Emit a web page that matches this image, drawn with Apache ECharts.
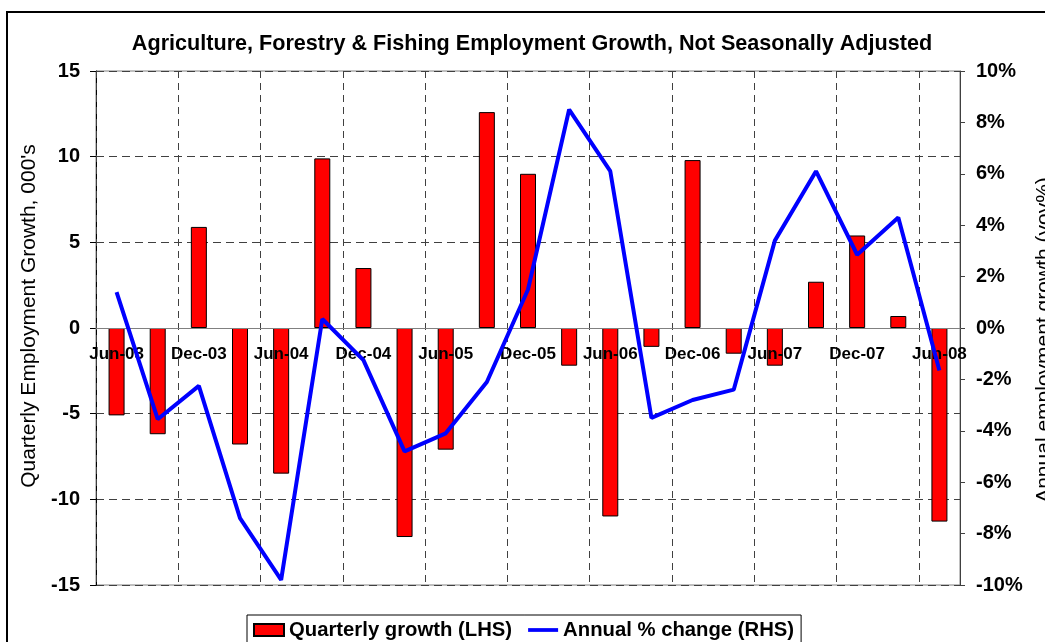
<!DOCTYPE html>
<html>
<head>
<meta charset="utf-8">
<script src="https://cdn.jsdelivr.net/npm/echarts@6/dist/echarts.min.js"></script>
<style>
html,body{margin:0;padding:0;background:#fff;}
#chart{width:1045px;height:642px;}
</style>
</head>
<body>
<div id="chart"></div>
<script>
var categories = ['Jun-03','Sep-03','Dec-03','Mar-04','Jun-04','Sep-04','Dec-04','Mar-05','Jun-05','Sep-05','Dec-05','Mar-06','Jun-06','Sep-06','Dec-06','Mar-07','Jun-07','Sep-07','Dec-07','Mar-08','Jun-08'];
var quarterlyGrowth = [-5.1,-6.2,5.9,-6.8,-8.5,9.9,3.5,-12.2,-7.1,12.6,9.0,-2.2,-11.0,-1.1,9.8,-1.5,-2.2,2.7,5.4,0.7,-11.3];
var annualChange = [1.4,-3.55,-2.25,-7.4,-9.8,0.35,-1.25,-4.8,-4.1,-2.1,1.5,8.5,6.1,-3.5,-2.8,-2.4,3.4,6.1,2.85,4.3,-1.65];
var leftTicks = {min:-15, max:15, interval:5};
var rightTicks = {min:-10, max:10, interval:2};

var gridTop = 71, gridBottomPx = 585;
var zeroOffset = -(gridBottomPx - (gridTop + (gridBottomPx - gridTop) * (leftTicks.max / (leftTicks.max - leftTicks.min))));

var chart = echarts.init(document.getElementById('chart'), null, {renderer:'canvas'});
var fontFam = '"Liberation Sans", Arial, sans-serif';
chart.setOption({
  animation:false,
  backgroundColor:'#ffffff',
  textStyle:{fontFamily:fontFam},
  title:{
    text:'Agriculture, Forestry & Fishing Employment Growth, Not Seasonally Adjusted',
    left:532, top:33, padding:0, textAlign:'center',
    textStyle:{fontSize:21.6, fontWeight:'bold', color:'#000', fontFamily:fontFam}
  },
  graphic:[{
    type:'rect', silent:true, z:-1,
    shape:{x:7, y:12, width:1100, height:700},
    style:{fill:'none', stroke:'#000', lineWidth:2}
  }],
  legend:{
    left:247, top:615,
    padding:[5,7,5,6],
    itemGap:16,
    itemWidth:30, itemHeight:12,
    borderColor:'#000', borderWidth:1,
    backgroundColor:'#fff',
    textStyle:{fontSize:20.3, fontWeight:'bold', color:'#000', fontFamily:fontFam},
    data:[
      {name:'Quarterly growth (LHS)', icon:'rect'},
      {name:'Annual % change (RHS)', icon:'path://M0,0H32V4H0Z'}
    ]
  },
  grid:{left:96, right:85, top:gridTop, bottom:642-gridBottomPx, outerBoundsMode:'none', containLabel:false,
        show:true, borderColor:'#808080', borderWidth:1, backgroundColor:'transparent'},
  xAxis:{
    type:'category',
    data:categories,
    boundaryGap:true,
    position:'bottom',
    offset:zeroOffset,
    z:3,
    axisLine:{show:true, onZero:false, lineStyle:{color:'#808080', width:1}},
    axisTick:{show:false},
    axisLabel:{interval:1, margin:18, fontSize:17, fontWeight:'bold', color:'#000', fontFamily:fontFam},
    splitLine:{show:true, interval:function(i){return i % 2 === 0;}, lineStyle:{color:'#404040', type:[7,5], width:1}}
  },
  yAxis:[{
    type:'value',
    min:leftTicks.min, max:leftTicks.max, interval:leftTicks.interval,
    position:'left',
    name:"Quarterly Employment Growth, 000's",
    nameLocation:'middle', nameGap:53,
    nameTextStyle:{fontSize:21, color:'#000', fontFamily:fontFam, padding:[0,0,0,24]},
    axisLine:{show:true, onZero:false, lineStyle:{color:'#000', width:1}},
    axisTick:{show:true, length:6, lineStyle:{color:'#000'}},
    axisLabel:{margin:16, fontSize:20, fontWeight:'bold', color:'#000', fontFamily:fontFam},
    splitLine:{show:true, lineStyle:{color:'#404040', type:[8,5], width:1}}
  },{
    type:'value',
    min:rightTicks.min, max:rightTicks.max, interval:rightTicks.interval,
    position:'right',
    name:'Annual employment growth (yoy%)',
    nameLocation:'middle', nameGap:71,
    nameTextStyle:{fontSize:21, color:'#000', fontFamily:fontFam, padding:[0,24,0,0]},
    axisLine:{show:true, onZero:false, lineStyle:{color:'#404040', width:1}},
    axisTick:{show:true, length:5, lineStyle:{color:'#404040'}},
    axisLabel:{margin:16, fontSize:20, fontWeight:'bold', color:'#000', fontFamily:fontFam, formatter:'{value}%'},
    splitLine:{show:false}
  }],
  series:[{
    name:'Quarterly growth (LHS)',
    type:'bar',
    yAxisIndex:0,
    data:quarterlyGrowth,
    barWidth:16,
    itemStyle:{color:'#ff0000', borderColor:'#000', borderWidth:1},
    z:2
  },{
    name:'Annual % change (RHS)',
    type:'line',
    yAxisIndex:1,
    data:annualChange,
    symbol:'none',
    lineStyle:{color:'#0000ff', width:4},
    itemStyle:{color:'#0000ff'},
    z:4
  }]
});
</script>
</body>
</html>
